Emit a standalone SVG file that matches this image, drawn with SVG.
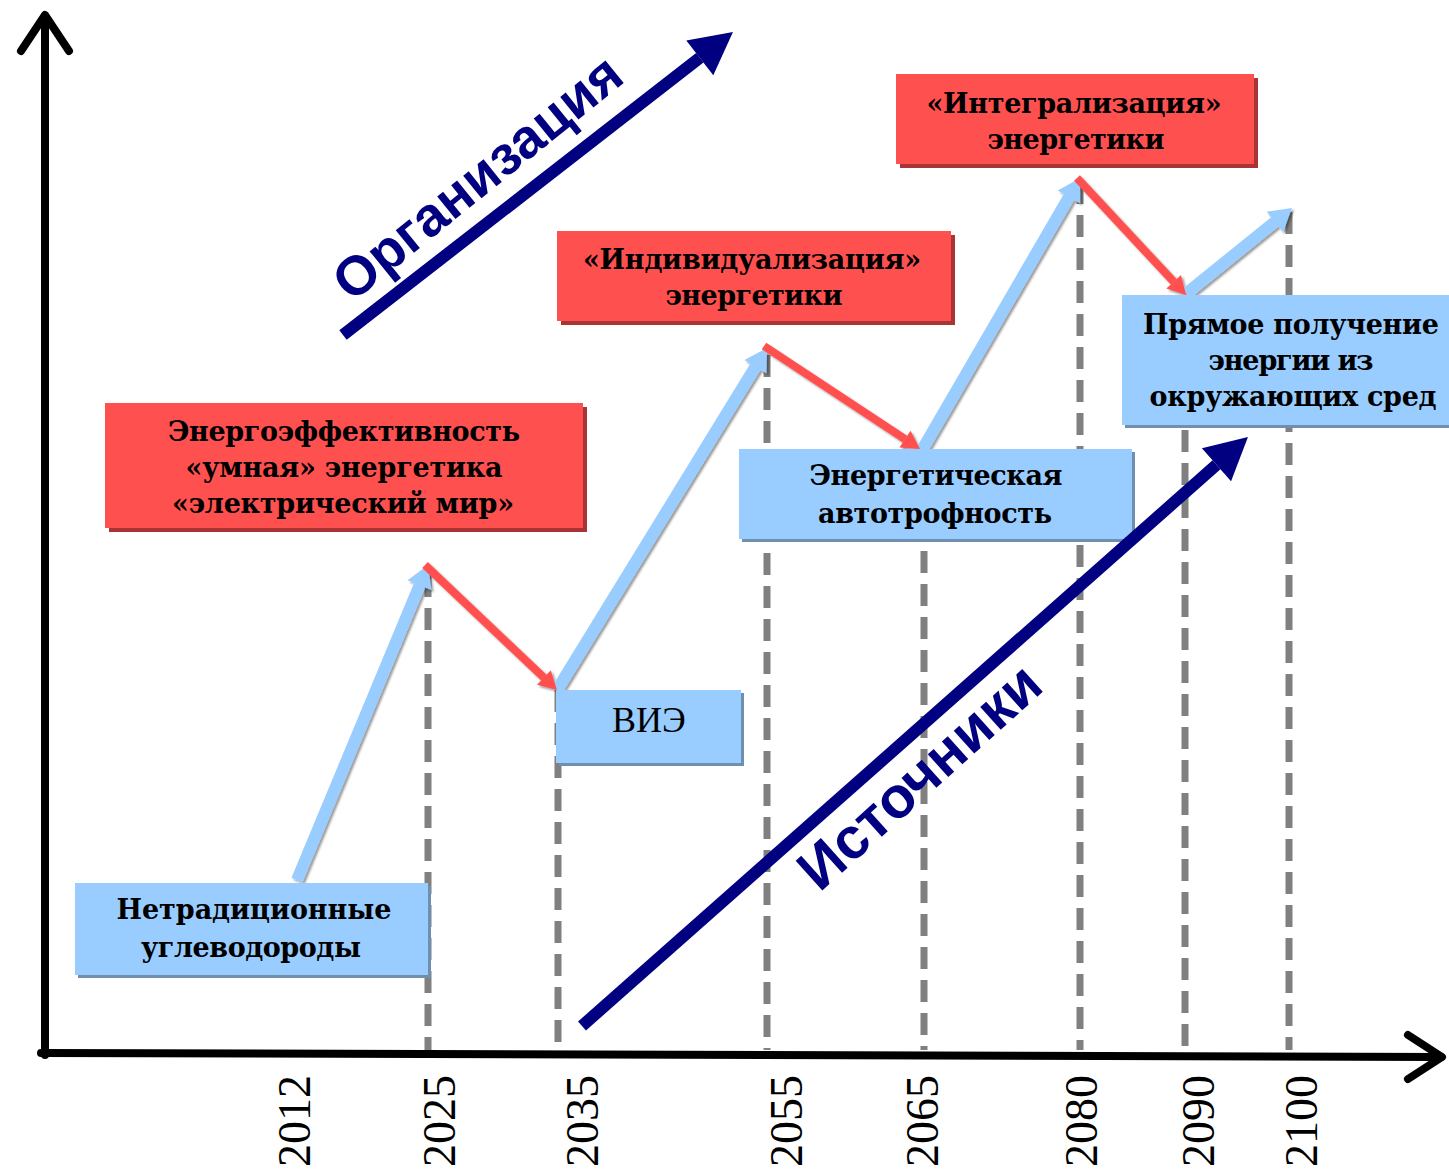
<svg xmlns="http://www.w3.org/2000/svg" width="1449" height="1170" viewBox="0 0 1449 1170">
<style>
.axis{stroke:#000;stroke-width:8;fill:none;stroke-linecap:round;stroke-linejoin:round}
.dash{stroke:#808080;stroke-width:7;stroke-dasharray:22 11;fill:none}
.red{fill:#FF5050}
.redsh{fill:#A83434}
.blue{fill:#99CCFF}
.bluesh{fill:#6F8FAF}
.t{font-family:"DejaVu Serif","Liberation Serif",serif;font-weight:bold;font-size:27px;fill:#000;text-anchor:middle}
.yr{font-family:"Liberation Serif","Times New Roman",serif;font-size:46px;fill:#000;text-anchor:middle}
.big{font-family:"Liberation Sans",Arial,sans-serif;font-weight:bold;font-size:55px;fill:#000080;text-anchor:middle}
.ab{stroke:#99CCFF;stroke-width:12;fill:none}
.ar{stroke:#FF5050;stroke-width:8;fill:none}
.an{stroke:#000080;stroke-width:12;fill:none}
</style>
<defs>
<filter id="sh" x="-20%" y="-20%" width="140%" height="140%">
<feDropShadow dx="2" dy="2" stdDeviation="1" flood-color="#000" flood-opacity="0.4"/>
</filter>
<marker id="mb" markerUnits="userSpaceOnUse" markerWidth="22" markerHeight="26" refX="0" refY="13" orient="auto" overflow="visible">
<path d="M0,0 L22,13 L0,26 z" fill="#99CCFF"/>
</marker>
<marker id="mr" markerUnits="userSpaceOnUse" markerWidth="18" markerHeight="20" refX="0" refY="10" orient="auto" overflow="visible">
<path d="M0,0 L18,10 L0,20 z" fill="#FF5050"/>
</marker>
<marker id="mn" markerUnits="userSpaceOnUse" markerWidth="42" markerHeight="44" refX="0" refY="22" orient="auto" overflow="visible">
<path d="M0,0 L42,22 L0,44 z" fill="#000080"/>
</marker>
</defs>
<rect width="1449" height="1170" fill="#fff"/>

<g id="gridlines">
<line class="dash" x1="428" y1="575" x2="428" y2="1050"/>
<line class="dash" x1="558" y1="690" x2="558" y2="1050"/>
<line class="dash" x1="767" y1="355" x2="767" y2="1050"/>
<line class="dash" x1="924" y1="452" x2="924" y2="1050"/>
<line class="dash" x1="1080" y1="182" x2="1080" y2="1050"/>
<line class="dash" x1="1185" y1="298" x2="1185" y2="1050"/>
<line class="dash" x1="1289" y1="212" x2="1289" y2="1050"/>
</g>

<g id="axes">
<line class="axis" x1="45" y1="1055" x2="45" y2="16"/>
<polyline class="axis" points="21,51 45,15 69,51"/>
<line class="axis" x1="41" y1="1053" x2="1441" y2="1057"/>
<polyline class="axis" points="1408,1035 1442,1057 1408,1079"/>
</g>

<g id="years">
<text class="yr" transform="translate(310,1121) rotate(-90)">2012</text>
<text class="yr" transform="translate(455,1121) rotate(-90)">2025</text>
<text class="yr" transform="translate(598,1121) rotate(-90)">2035</text>
<text class="yr" transform="translate(802,1121) rotate(-90)">2055</text>
<text class="yr" transform="translate(938,1121) rotate(-90)">2065</text>
<text class="yr" transform="translate(1097,1121) rotate(-90)">2080</text>
<text class="yr" transform="translate(1214,1121) rotate(-90)">2090</text>
<text class="yr" transform="translate(1317,1121) rotate(-90)">2100</text>
</g>

<g id="connectors">
<g filter="url(#sh)">
<line class="ab" x1="297" y1="880" x2="419.6" y2="585.3" marker-end="url(#mb)"/>
<line class="ab" x1="557" y1="690" x2="755.5" y2="366.7" marker-end="url(#mb)"/>
<line class="ab" x1="922" y1="450" x2="1069" y2="197" marker-end="url(#mb)"/>
<line class="ab" x1="1187" y1="293" x2="1274.9" y2="221.8" marker-end="url(#mb)"/>
<line class="ar" x1="425" y1="565" x2="543.9" y2="677.6" marker-end="url(#mr)"/>
<line class="ar" x1="764" y1="346" x2="905" y2="439.1" marker-end="url(#mr)"/>
<line class="ar" x1="1077" y1="178" x2="1173.7" y2="281.8" marker-end="url(#mr)"/>
</g>
</g>

<g id="n-energy-eff">
<rect class="redsh" x="109" y="407" width="478" height="125"/>
<rect class="red" x="105" y="403" width="478" height="125"/>
<text class="t" x="344" y="441" textLength="352" lengthAdjust="spacing">Энергоэффективность</text>
<text class="t" x="344" y="477" textLength="317" lengthAdjust="spacing">«умная» энергетика</text>
<text class="t" x="343" y="513" textLength="342" lengthAdjust="spacing">«электрический мир»</text>
</g>

<g id="n-individ">
<rect class="redsh" x="561" y="235" width="394" height="90"/>
<rect class="red" x="557" y="231" width="394" height="90"/>
<text class="t" x="752" y="269" textLength="338" lengthAdjust="spacing">«Индивидуализация»</text>
<text class="t" x="754" y="305" textLength="177" lengthAdjust="spacing">энергетики</text>
</g>

<g id="n-integr">
<rect class="redsh" x="900" y="78" width="358" height="90"/>
<rect class="red" x="896" y="74" width="358" height="90"/>
<text class="t" x="1074" y="113" textLength="295" lengthAdjust="spacing">«Интегрализация»</text>
<text class="t" x="1076" y="149" textLength="177" lengthAdjust="spacing">энергетики</text>
</g>

<g id="n-nontrad">
<rect class="bluesh" x="78" y="886" width="353" height="92"/>
<rect class="blue" x="75" y="883" width="353" height="92"/>
<text class="t" x="254" y="919" textLength="275" lengthAdjust="spacing">Нетрадиционные</text>
<text class="t" x="251" y="957" textLength="220" lengthAdjust="spacing">углеводороды</text>
</g>

<g id="n-vie">
<rect class="bluesh" x="559" y="693" width="185" height="73"/>
<rect class="blue" x="556" y="690" width="185" height="73"/>
<text x="649" y="732" style="font-family:'Liberation Serif',serif;font-size:36px;text-anchor:middle;fill:#000">ВИЭ</text>
</g>

<g id="n-autotroph">
<rect class="bluesh" x="742" y="452" width="393" height="90"/>
<rect class="blue" x="739" y="449" width="393" height="90"/>
<text class="t" x="936" y="485" textLength="253" lengthAdjust="spacing">Энергетическая</text>
<text class="t" x="935" y="523" textLength="234" lengthAdjust="spacing">автотрофность</text>
</g>

<g id="n-direct">
<rect class="bluesh" x="1125" y="298" width="340" height="130"/>
<rect class="blue" x="1122" y="295" width="340" height="130"/>
<text class="t" x="1291" y="334" textLength="296" lengthAdjust="spacing">Прямое получение</text>
<text class="t" x="1291" y="370" textLength="165" lengthAdjust="spacing">энергии из</text>
<text class="t" x="1293" y="406" textLength="287" lengthAdjust="spacing">окружающих сред</text>
</g>

<g id="n-organization">
<line class="an" x1="343" y1="335" x2="699.8" y2="57.8" marker-end="url(#mn)"/>
<text class="big" transform="translate(477,177) rotate(-39)" dy="0.35em">Организация</text>
</g>

<g id="n-sources">
<line class="an" x1="582" y1="1026" x2="1216.5" y2="464.8" marker-end="url(#mn)"/>
<text class="big" transform="translate(919,776) rotate(-42)" dy="0.35em" style="font-size:58px">Источники</text>
</g>
</svg>
